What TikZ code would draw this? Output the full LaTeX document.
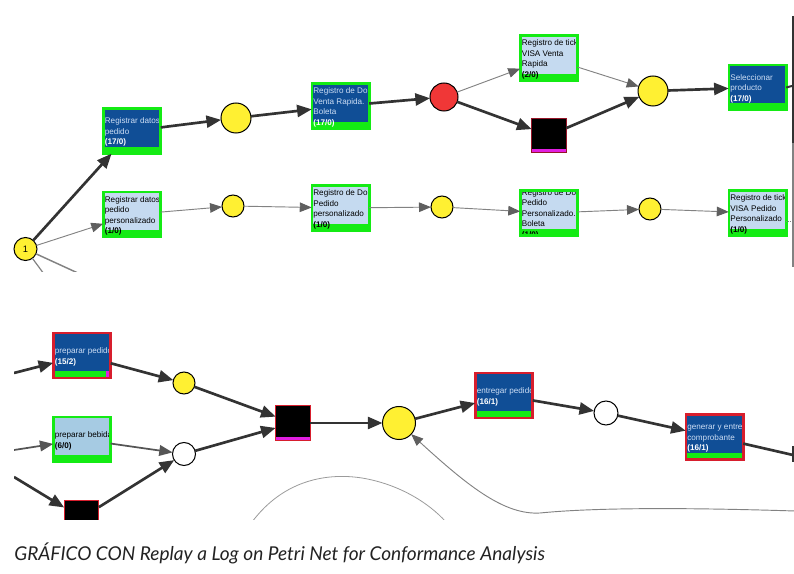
\documentclass[tikz,border=0pt]{standalone}
\usepackage{fontspec}
\setmainfont{Liberation Sans}
\newfontfamily\capfont{Lato}
\usetikzlibrary{arrows.meta}
\definecolor{dblue}{RGB}{16,78,150}
\definecolor{lblue}{RGB}{197,218,240}
\definecolor{mblue}{RGB}{166,203,227}
\definecolor{tgreen}{RGB}{20,235,20}
\definecolor{tred}{RGB}{215,30,45}
\definecolor{dred}{RGB}{150,20,40}
\definecolor{tmag}{RGB}{225,30,225}
\definecolor{pyel}{RGB}{255,240,50}
\definecolor{pred}{RGB}{240,55,55}
\definecolor{dgray}{RGB}{51,51,51}
\definecolor{mgray}{RGB}{85,85,85}
\definecolor{lgray}{RGB}{130,130,130}
\definecolor{tipgray}{RGB}{95,95,95}
\definecolor{ltxt}{RGB}{205,222,245}
\definecolor{captxt}{RGB}{34,34,34}
\newcommand\cntw[1]{\textcolor{white}{\textbf{#1}}}
\newcommand\cntb[1]{\textbf{#1}}
\begin{document}
\begin{tikzpicture}[x=0.75pt,y=-0.75pt,
  trbase/.style={rectangle, outer sep=0pt, inner sep=0pt, minimum width=43.1pt, minimum height=34pt, line width=1.9pt},
  tdark/.style={trbase, fill=dblue, draw=tgreen},
  tlight/.style={trbase, fill=lblue, draw=tgreen},
  tmid/.style={trbase, fill=mblue, draw=tgreen},
  tdarkred/.style={trbase, fill=dblue, draw=tred},
  lbltext/.style={anchor=west, inner sep=0pt, outer sep=0pt, align=left, draw=none, fill=none, minimum width=0pt, minimum height=0pt, font=\fontsize{6.1}{7.9}\selectfont},
  lbl/.style n args={3}{path picture={
     \fill[#1] (path picture bounding box.south west) rectangle ([yshift=5pt]path picture bounding box.south east);
     \node[lbltext, text=#2] at ([xshift=1.2pt,yshift=-1pt]path picture bounding box.west) {#3};}},
  tblack/.style={rectangle, outer sep=0pt, inner sep=0pt, fill=black, draw=#1, line width=0.9pt, minimum size=26pt,
     path picture={\fill[tmag] (path picture bounding box.south west) rectangle ([yshift=2.6pt]path picture bounding box.south east);}},
  place/.style={circle, draw=black, line width=0.75pt, inner sep=0pt, outer sep=0pt, fill=#1},
  thick/.style={draw=dgray, line width=2pt, -{Triangle[length=11pt,width=9pt]}},
  medarc/.style={draw=mgray, line width=1.3pt, -{Triangle[length=10pt,width=8pt]}},
  thin/.style={draw=lgray, line width=0.7pt, -{Triangle[length=9pt,width=7.2pt,color=tipgray]}},
  plain/.style={draw=lgray, line width=0.9pt},
  faint/.style={draw=lgray!80, line width=0.6pt},
]
\useasboundingbox (0,0) rectangle (794,574);

% ---------------- top panel ----------------
\begin{scope}
\clip (13,10) rectangle (794,272);
\node[place=pyel, minimum size=17.25pt, font=\fontsize{7}{8}\selectfont] (P0) at (25.5,249) {1};
\node[tdark, lbl={tgreen}{ltxt}{Registrar datos\\pedido\\\cntw{(17/0)}}] (T1) at (132,131) {};
\node[place=pyel, minimum size=22.5pt] (P1) at (236,118) {};
\node[tdark, lbl={tgreen}{ltxt}{Registro de Do\\Venta Rapida.\\Boleta\\\cntw{(17/0)}}] (T2) at (340.5,106) {};
\node[place=pred, minimum size=21pt] (PR) at (444,97) {};
\node[tlight, lbl={tgreen}{black}{Registro de tick\\VISA Venta\\Rapida\\\cntb{(2/0)}}] (T5) at (549,58) {};
\node[tblack=dred] (TB1) at (549,135.5) {};
\node[place=pyel, minimum size=22.5pt] (PY) at (653,91) {};
\node[tdark, lbl={tgreen}{ltxt}{Seleccionar\\producto\\\cntw{(17/0)}}] (T6) at (757.5,87.5) {};

\node[tlight, lbl={tgreen}{black}{Registrar datos\\pedido\\personalizado\\\cntb{(1/0)}}] (T3) at (132,214.5) {};
\node[place=pyel, minimum size=16.5pt] (P2) at (233,206) {};
\node[tlight, lbl={tgreen}{black}{Registro de Do\\Pedido\\personalizado\\\cntb{(1/0)}}] (T4) at (340.5,208) {};
\node[place=pyel, minimum size=16.5pt] (P3) at (442,207) {};
\node[tlight, lbl={tgreen}{black}{Registro de Do\\Pedido\\Personalizado.\\Boleta\\\cntb{(1/0)}}] (T7) at (549,213) {};
\node[place=pyel, minimum size=16.5pt] (P4) at (650,209) {};
\node[tlight, lbl={tgreen}{black}{Registro de tick\\VISA Pedido\\Personalizado\\\cntb{(1/0)}}] (T8) at (757.5,213) {};

\coordinate (d1) at (80,274);
\coordinate (d2) at (44,274);
\coordinate (o6) at (792,86);
\coordinate (o8) at (792,221);

\draw[thick] (P0) -- (T1);
\draw[thin] (P0) -- (T3);
\draw[plain, line width=1.1pt] (P0) -- (d1);
\draw[plain] (P0) -- (d2);
\draw[thick] (T1) -- (P1);
\draw[thick] (P1) -- (T2);
\draw[thick] (T2) -- (PR);
\draw[thin] (PR) -- (T5);
\draw[thick] (PR) -- (TB1);
\draw[thin] (T5) -- (PY);
\draw[thick] (TB1) -- (PY);
\draw[thick] (PY) -- (T6);
\draw[thin] (T3) -- (P2);
\draw[thin] (P2) -- (T4);
\draw[thin] (T4) -- (P3);
\draw[thin] (P3) -- (T7);
\draw[thin] (T7) -- (P4);
\draw[thin] (P4) -- (T8);
\draw[draw=dgray, line width=1.5pt] (T6.east) -- (o6);
\draw[draw=lgray, line width=0.5pt, densely dotted] (T8.east |- o8) -- (o8);

\coordinate (sbt) at (793,16);
\coordinate (sbm) at (793,143);
\coordinate (sbb) at (793,267);
\draw[draw=lgray, line width=1.2pt] (sbt) -- (sbb);
\draw[draw=dgray, line width=1.5pt] (sbt) -- (sbm);
\end{scope}

% ---------------- bottom panel ----------------
\begin{scope}
\clip (14,320) rectangle (794,520);
\node[tdarkred, lbl={tgreen}{ltxt}{preparar pedido\\\cntw{(15/2)}}] (T9) at (82,355.5) {};
\fill[tmag] ([shift={(-3.9pt,0.95pt)}]T9.south east) rectangle ([shift={(-0.95pt,5pt)}]T9.south east);
\node[place=pyel, minimum size=16.5pt] (P5) at (184,383) {};
\node[tmid, lbl={tgreen}{black}{preparar bebida\\\cntb{(6/0)}}] (T10) at (82,439.5) {};
\node[place=white, minimum size=17.25pt] (P6) at (184,454) {};
\node[tblack=tred] (T11) at (293,423) {};
\node[tblack=tred] (T12) at (81.5,518) {};
\node[place=pyel, minimum size=24.75pt] (P7) at (399,423) {};
\node[tdarkred, lbl={tgreen}{ltxt}{entregar pedido\\\cntw{(16/1)}}] (T13) at (504,395.5) {};
\node[place=white, minimum size=18pt] (P8) at (606,413) {};
\node[tdarkred, lbl={tgreen}{ltxt}{generar y entre\\comprobante\\\cntw{(16/1)}}] (T14) at (714.5,437) {};

\coordinate (i9) at (14,373);
\coordinate (i10) at (14,450);
\coordinate (i12) at (14,477);
\coordinate (o14) at (793,455);
\coordinate (o14a) at (793,446);
\coordinate (o14b) at (793,462);
\coordinate (cS) at (795,511);
\coordinate (aS) at (252,522);
\coordinate (aE) at (446,522);

\draw[thick] (i9) -- (T9);
\draw[medarc] (i10) -- (T10);
\draw[thick] (i12) -- (T12);
\draw[thick] (T9) -- (P5);
\draw[medarc] (T10) -- (P6);
\draw[thick] (T12) -- (P6);
\draw[thick] (P5) -- (T11);
\draw[thick] (P6) -- (T11);
\draw[thick] (T11) -- (P7);
\draw[thick] (P7) -- (T13);
\draw[thick] (T13) -- (P8);
\draw[thick] (P8) -- (T14);
\draw[draw=dgray, line width=2pt] (T14) -- (o14);
\draw[draw=dgray, line width=1pt] (o14a) -- (o14b);
\draw[thin] (cS) .. controls (700,508) and (600,507) .. (540,513) .. controls (505,515) and (470,488) .. (P7);
\draw[faint] (aS) .. controls (285,478) and (330,473) .. (362,478) .. controls (398,484) and (428,502) .. (aE);
\end{scope}

% ---------------- caption ----------------
\node[anchor=base west, inner sep=0pt, text=captxt] (cap) at (14,561)
  {\resizebox{398pt}{!}{\capfont\itshape GRÁFICO CON Replay a Log on Petri Net for Conformance Analysis}};
\end{tikzpicture}
\end{document}
